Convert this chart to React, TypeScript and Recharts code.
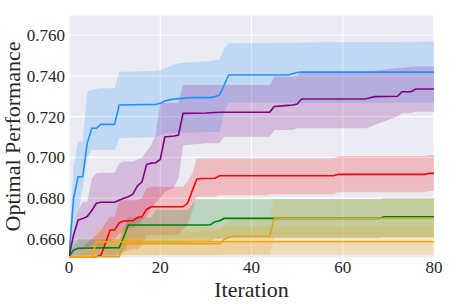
import React from 'react';
import { ComposedChart, Area, Line, XAxis, YAxis, CartesianGrid, Label } from 'recharts';

// ---------- data ----------
const xTicks = [0, 20, 40, 60, 80];
const yTicks = [0.66, 0.68, 0.7, 0.72, 0.74, 0.76];

// Blue
const blueIt = [0, 1, 2, 3, 4, 5, 6, 7, 10, 11, 19, 20, 21, 22, 23, 24, 27, 31, 32, 33, 34, 35, 48, 49, 50, 51, 80];
const blueMean = [0.6513, 0.68, 0.6905, 0.6905, 0.707, 0.7143, 0.7143, 0.7162, 0.7162, 0.7257, 0.726, 0.7265, 0.7276, 0.7282, 0.7286, 0.7288, 0.7293, 0.7293, 0.7298, 0.7306, 0.7355, 0.7404, 0.7404, 0.741, 0.7416, 0.7418, 0.7418];
const blueLo = [0.6513, 0.66, 0.673, 0.685, 0.7, 0.7036, 0.7036, 0.7036, 0.7036, 0.7094, 0.71, 0.711, 0.7118, 0.712, 0.712, 0.712, 0.7122, 0.7125, 0.7125, 0.7125, 0.722, 0.7268, 0.7268, 0.7268, 0.7268, 0.7268, 0.7268];
const blueHi = [0.6513, 0.695, 0.7077, 0.708, 0.7322, 0.733, 0.7335, 0.7339, 0.7339, 0.742, 0.7424, 0.7428, 0.7437, 0.7445, 0.7453, 0.7461, 0.7466, 0.7472, 0.7477, 0.748, 0.7535, 0.756, 0.7562, 0.7562, 0.7562, 0.7563, 0.7567];

// Purple
const purpleIt = [0, 1, 2, 3, 4, 5, 6, 7, 10, 11, 12, 13, 14, 15, 16, 17, 18, 19, 20, 21, 23, 24, 25, 30, 33, 34, 44, 45, 48, 49, 50, 51, 65, 66, 67, 72, 73, 75, 76, 80];
const purpleMean = [0.6513, 0.662, 0.6693, 0.67, 0.671, 0.674, 0.6775, 0.678, 0.678, 0.679, 0.68, 0.6807, 0.682, 0.686, 0.688, 0.6965, 0.6972, 0.6974, 0.699, 0.71, 0.7105, 0.711, 0.7216, 0.7218, 0.7221, 0.7221, 0.7222, 0.725, 0.7255, 0.7257, 0.7262, 0.7286, 0.7286, 0.7292, 0.7298, 0.73, 0.7322, 0.7322, 0.7335, 0.7335];
const purpleLo = [0.6513, 0.652, 0.654, 0.655, 0.656, 0.657, 0.6565, 0.6565, 0.66, 0.6628, 0.6636, 0.6654, 0.6654, 0.667, 0.669, 0.671, 0.675, 0.678, 0.68, 0.683, 0.685, 0.69, 0.706, 0.707, 0.707, 0.7101, 0.7101, 0.7134, 0.7134, 0.7134, 0.7143, 0.7143, 0.7143, 0.715, 0.7159, 0.72, 0.7216, 0.7216, 0.7224, 0.7224];
const purpleHi = [0.6513, 0.662, 0.674, 0.6783, 0.6783, 0.6897, 0.6922, 0.6925, 0.6925, 0.697, 0.698, 0.698, 0.698, 0.699, 0.7, 0.703, 0.706, 0.711, 0.7267, 0.7267, 0.7267, 0.7267, 0.7355, 0.7355, 0.7355, 0.7355, 0.7355, 0.7396, 0.7396, 0.7396, 0.74, 0.742, 0.742, 0.7422, 0.7425, 0.7438, 0.744, 0.7444, 0.7446, 0.7446];

// Red
const redIt = [0, 1, 2, 3, 4, 5, 6, 7, 8, 9, 10, 11, 12, 14, 15, 16, 17, 18, 24, 25, 26, 27, 28, 29, 32, 33, 43, 44, 58, 59, 78, 79, 80];
const redMean = [0.6513, 0.6513, 0.6513, 0.6513, 0.6513, 0.6513, 0.6513, 0.652, 0.658, 0.6644, 0.6644, 0.668, 0.6688, 0.669, 0.6705, 0.671, 0.6745, 0.6758, 0.6758, 0.6758, 0.6775, 0.6835, 0.6893, 0.6897, 0.6898, 0.691, 0.691, 0.691, 0.691, 0.6917, 0.6917, 0.6922, 0.6922];
const redLo = [0.6513, 0.6513, 0.6513, 0.6513, 0.6513, 0.6513, 0.6513, 0.6513, 0.6513, 0.6513, 0.6513, 0.6525, 0.6538, 0.655, 0.655, 0.657, 0.662, 0.662, 0.662, 0.6645, 0.6669, 0.674, 0.6807, 0.6807, 0.6807, 0.6815, 0.6815, 0.6819, 0.6819, 0.6829, 0.6829, 0.6835, 0.6835];
const redHi = [0.6513, 0.652, 0.654, 0.656, 0.658, 0.66, 0.662, 0.664, 0.668, 0.6709, 0.6709, 0.6783, 0.679, 0.679, 0.679, 0.68, 0.6848, 0.6856, 0.6856, 0.6856, 0.6885, 0.692, 0.6995, 0.6995, 0.6995, 0.6995, 0.6995, 0.6995, 0.6995, 0.7007, 0.7007, 0.7012, 0.7012];

// Green
const greenIt = [0, 1, 2, 11, 12, 13, 18, 19, 26, 27, 28, 30, 31, 32, 33, 34, 68, 69, 80];
const greenMean = [0.6513, 0.6546, 0.6555, 0.6558, 0.661, 0.6669, 0.6669, 0.6669, 0.6669, 0.6669, 0.6669, 0.6669, 0.667, 0.6685, 0.669, 0.6701, 0.6701, 0.6709, 0.6709];
const greenLo = [0.6513, 0.652, 0.652, 0.652, 0.654, 0.658, 0.658, 0.658, 0.658, 0.659, 0.659, 0.659, 0.659, 0.66, 0.66, 0.6605, 0.6605, 0.661, 0.661];
const greenHi = [0.6513, 0.657, 0.66, 0.66, 0.665, 0.6705, 0.6705, 0.6742, 0.6742, 0.677, 0.6795, 0.6795, 0.6795, 0.6795, 0.6795, 0.6795, 0.6795, 0.68, 0.68];

// Goldenrod
const goldIt = [0, 11, 12, 33, 34, 35, 36, 44, 45, 68, 69, 80];
const goldMean = [0.6513, 0.6513, 0.6577, 0.6577, 0.6598, 0.6608, 0.6615, 0.6615, 0.6702, 0.6702, 0.6702, 0.6702];
const goldLo = [0.6513, 0.6513, 0.652, 0.652, 0.6525, 0.6525, 0.6525, 0.6525, 0.661, 0.661, 0.661, 0.661];
const goldHi = [0.6513, 0.655, 0.662, 0.664, 0.667, 0.6695, 0.6706, 0.6706, 0.6795, 0.6795, 0.68, 0.68];

// Orange
const orangeIt = [0, 5, 6, 80];
const orangeMean = [0.6513, 0.6513, 0.6587, 0.6587];
const orangeLo = [0.6513, 0.6513, 0.6522, 0.6522];
const orangeHi = [0.6513, 0.655, 0.6659, 0.6659];

const build = (its: number[], mean: number[], lo: number[], hi: number[]) =>
  its.map((it, i) => ({ it, mean: mean[i], band: [lo[i], hi[i]] }));

const series = [
  { name: 'blue', color: '#1E90FF', rows: build(blueIt, blueMean, blueLo, blueHi) },
  { name: 'purple', color: '#800080', rows: build(purpleIt, purpleMean, purpleLo, purpleHi) },
  { name: 'red', color: '#FF0000', rows: build(redIt, redMean, redLo, redHi) },
  { name: 'green', color: '#008000', rows: build(greenIt, greenMean, greenLo, greenHi) },
  { name: 'gold', color: '#DAA520', rows: build(goldIt, goldMean, goldLo, goldHi) },
  { name: 'orange', color: '#FFA500', rows: build(orangeIt, orangeMean, orangeLo, orangeHi) },
];

const FONT = "'Liberation Serif', 'Times New Roman', serif";
const TXT = '#262626';

const YLabel = (props: any) => {
  const vb = props.viewBox || {};
  const cx = vb.x + 11;
  const cy = vb.y + vb.height / 2;
  return (
    <text x={cx} y={cy} transform={`rotate(-90, ${cx}, ${cy})`} textAnchor="middle"
      fontSize={22} fontFamily={FONT} fill={TXT}>
      Optimal Performance
    </text>
  );
};

const XTick = (props: any) => (
  <text x={props.x} y={props.y} dy="0.71em" textAnchor="middle" fontSize={17}
    fontFamily={FONT} fill={TXT}>
    {props.payload.value}
  </text>
);

const YTick = (props: any) => (
  <text x={props.x} y={props.y} dy="0.355em" textAnchor="end" fontSize={17}
    fontFamily={FONT} fill={TXT}>
    {Number(props.payload.value).toFixed(3)}
  </text>
);

export default function App() {
  return (
    <div style={{ position: 'absolute', left: 0, top: 0, width: 457, height: 305, background: '#fff', fontFamily: FONT }}>
      <ComposedChart width={457} height={305} margin={{ top: 15, right: 23, bottom: 0, left: 9 }}>
        <CartesianGrid fill="#EAEAF2" stroke="#FFFFFF" strokeWidth={1.2} />
        <XAxis type="number" dataKey="it" domain={[0, 80]} ticks={xTicks} allowDataOverflow
          axisLine={false} tickLine={false} tickSize={0} tickMargin={3} height={47}
          tick={XTick}>
          <Label value="Iteration" position="insideBottom" offset={8}
            fontSize={22} fill={TXT} fontFamily={FONT} />
        </XAxis>
        <YAxis type="number" domain={[0.6507, 0.7698]} ticks={yTicks} allowDataOverflow
          axisLine={false} tickLine={false} tickSize={0} tickMargin={4} width={60}
          tick={YTick}>
          <Label content={YLabel} />
        </YAxis>
        {series.map((s) => (
          <Area key={`a-${s.name}`} data={s.rows} dataKey="band" type="linear" stroke="none"
            fill={s.color} fillOpacity={0.2} isAnimationActive={false} />
        ))}
        {series.map((s) => (
          <Line key={`l-${s.name}`} data={s.rows} dataKey="mean" type="linear" stroke={s.color}
            strokeWidth={1.6} dot={false} activeDot={false} isAnimationActive={false} />
        ))}
      </ComposedChart>
    </div>
  );
}
